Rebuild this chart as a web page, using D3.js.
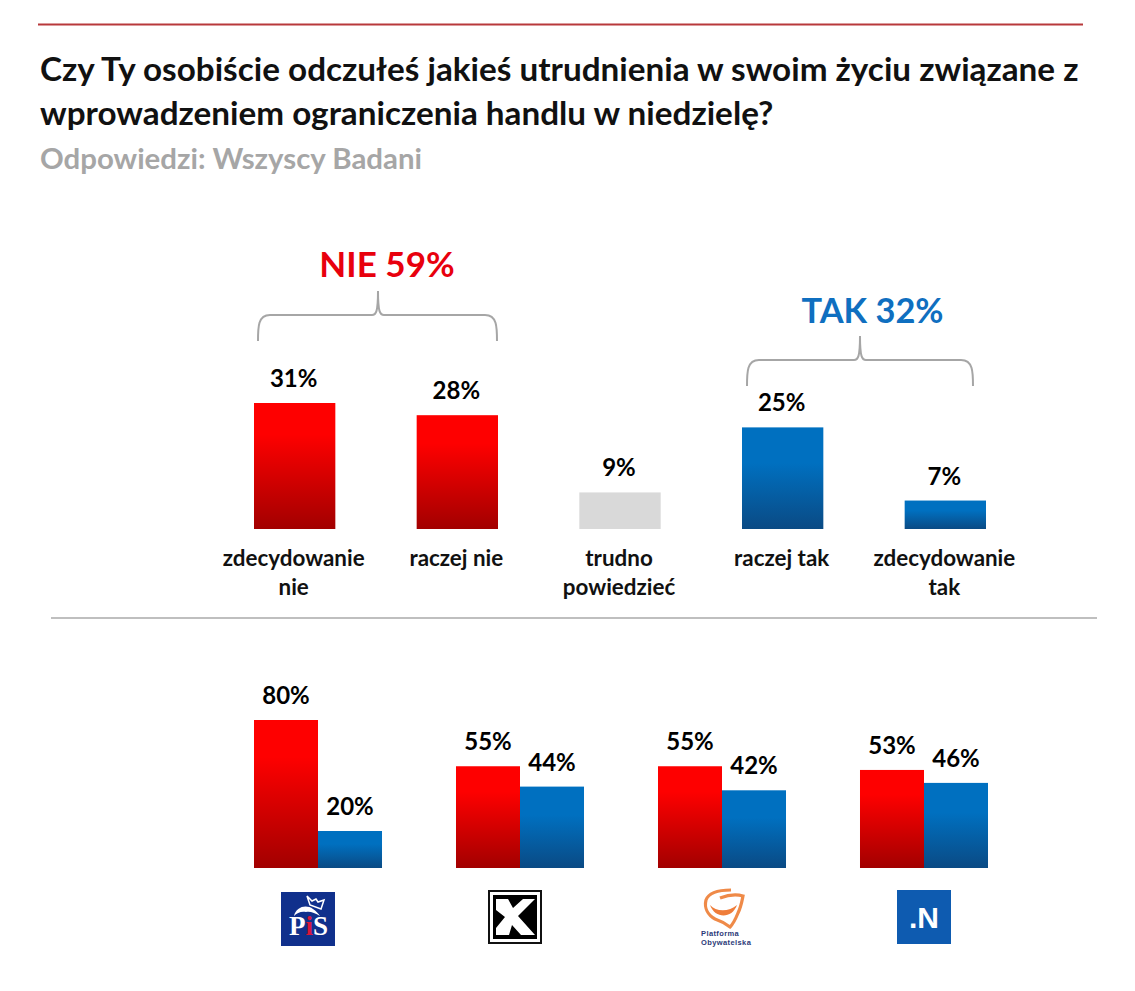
<!DOCTYPE html>
<html lang="pl">
<head>
<meta charset="utf-8">
<script src="https://cdn.jsdelivr.net/npm/d3@7"></script>
<style>
  html, body { margin: 0; background: #fff; }
  svg { display: block; }
  text { font-family: Lato, "Open Sans", sans-serif; font-weight: 700; }
</style>
</head>
<body>
<svg id="chart" width="1135" height="991"></svg>
<script>
// Data
const answers = ["zdecydowanie nie", "raczej nie", "trudno powiedzieć", "raczej tak", "zdecydowanie tak"];
const answerLines = [["zdecydowanie", "nie"], ["raczej nie"], ["trudno", "powiedzieć"], ["raczej tak"], ["zdecydowanie", "tak"]];
const answerValues = [31, 28, 9, 25, 7];
const answerFills = ["red", "red", "grey", "blue", "blue"];

const parties = ["PiS", "Kukiz", "PO", "N"];
const partySeries = ["nie", "tak"];
const partyNie = [80, 55, 55, 53];
const partyTak = [20, 44, 42, 46];

const titleLines = [
  "Czy Ty osobiście odczułeś jakieś utrudnienia w swoim życiu związane z",
  "wprowadzeniem ograniczenia handlu w niedzielę?"
];
const subtitle = "Odpowiedzi: Wszyscy Badani";

const svg = d3.select("#chart");

// Gradients
const defs = svg.append("defs");
function gradient(id, top, bottom, start) {
  const g = defs.append("linearGradient").attr("id", id)
    .attr("x1", 0).attr("y1", 0).attr("x2", 0).attr("y2", 1);
  g.append("stop").attr("offset", "0%").attr("stop-color", top);
  g.append("stop").attr("offset", start).attr("stop-color", top);
  g.append("stop").attr("offset", "100%").attr("stop-color", bottom);
}
gradient("red", "#fe0000", "#a20000", "25%");
gradient("blue", "#0070c0", "#0a4a84", "35%");
const fillOf = (k) => (k === "grey" ? "#d9d9d9" : `url(#${k})`);

// Header
svg.append("line").attr("x1", 38).attr("x2", 1083).attr("y1", 24.5).attr("y2", 24.5)
  .attr("stroke", "#b8393b").attr("stroke-width", 2);
svg.append("g").selectAll("text").data(titleLines).join("text")
  .attr("x", 40).attr("y", (d, i) => 81 + i * 44)
  .attr("font-size", 33.25).attr("fill", "#111").text((d) => d);
svg.append("text").attr("x", 40).attr("y", 169)
  .attr("font-size", 29.4).attr("fill", "#a6a6a6").text(subtitle);

// Top chart
const baseTop = 529;
const xTop = d3.scaleBand().domain(answers).range([254, 986]).paddingInner(0.5);
const yTop = d3.scaleLinear().domain([0, 31]).range([baseTop, 403]);

const topChart = svg.append("g");
topChart.selectAll("rect").data(answers).join("rect")
  .attr("x", (d) => xTop(d))
  .attr("width", xTop.bandwidth())
  .attr("y", (d, i) => yTop(answerValues[i]))
  .attr("height", (d, i) => baseTop - yTop(answerValues[i]))
  .attr("fill", (d, i) => fillOf(answerFills[i]));
topChart.selectAll(".val").data(answers).join("text").attr("class", "val")
  .attr("x", (d) => xTop(d) + xTop.bandwidth() / 2 - 1)
  .attr("y", (d, i) => yTop(answerValues[i]) - 16)
  .attr("text-anchor", "middle").attr("font-size", 24).attr("fill", "#000")
  .text((d, i) => answerValues[i] + "%");
topChart.selectAll(".cat").data(answers).join("text").attr("class", "cat")
  .attr("text-anchor", "middle").attr("font-size", 22.4).attr("fill", "#111")
  .selectAll("tspan").data((d, i) => answerLines[i].map((t) => [d, t])).join("tspan")
  .attr("x", (d) => xTop(d[0]) + xTop.bandwidth() / 2 - 1)
  .attr("y", (d, i) => 566 + i * 29)
  .text((d) => d[1]);

// Braces over the answer groups
function brace(x0, x1, xm, y, drop, rise) {
  const r = 12;
  return `M${x0},${y + drop} C${x0},${y + r} ${x0},${y} ${x0 + r},${y}`
    + ` L${xm - 6},${y} C${xm - 2},${y} ${xm},${y - 3} ${xm},${y - rise}`
    + ` C${xm},${y - 3} ${xm + 2},${y} ${xm + 6},${y}`
    + ` L${x1 - r},${y} C${x1},${y} ${x1},${y + r} ${x1},${y + drop}`;
}
const braces = [
  { x0: xTop("zdecydowanie nie") + 4, x1: xTop("raczej nie") + xTop.bandwidth() - 1, xm: 378, y: 315, label: "NIE 59%", color: "#e8000d", labelX: 387, labelY: 277, size: 35 },
  { x0: xTop("raczej tak") + 5, x1: xTop("zdecydowanie tak") + xTop.bandwidth() - 13, xm: 860, y: 360, label: "TAK 32%", color: "#0f6fc0", labelX: 872.5, labelY: 323, size: 34.4 }
];
braces.forEach((b) => {
  svg.append("path").attr("d", brace(b.x0, b.x1, b.xm, b.y, 26, 24))
    .attr("fill", "none").attr("stroke", "#a6a6a6").attr("stroke-width", 2);
  svg.append("text").attr("x", b.labelX).attr("y", b.labelY)
    .attr("text-anchor", "middle").attr("font-size", b.size).attr("fill", b.color).text(b.label);
});

// Divider
svg.append("line").attr("x1", 51).attr("x2", 1097).attr("y1", 618).attr("y2", 618)
  .attr("stroke", "#bfbfbf").attr("stroke-width", 2);

// Bottom chart
const baseBot = 868;
const x0 = d3.scaleBand().domain(parties).range([254, 988]).paddingInner(0.3663);
const x1 = d3.scaleBand().domain(partySeries).range([0, x0.bandwidth()]);
const yBot = d3.scaleLinear().domain([0, 80]).range([baseBot, 720]);

const rows = parties.flatMap((p, i) => [
  { party: p, series: "nie", value: partyNie[i], fill: "red" },
  { party: p, series: "tak", value: partyTak[i], fill: "blue" }
]);
const bottomChart = svg.append("g");
bottomChart.selectAll("rect").data(rows).join("rect")
  .attr("x", (d) => x0(d.party) + x1(d.series))
  .attr("width", x1.bandwidth())
  .attr("y", (d) => yBot(d.value))
  .attr("height", (d) => baseBot - yBot(d.value))
  .attr("fill", (d) => fillOf(d.fill));
bottomChart.selectAll("text").data(rows).join("text")
  .attr("x", (d) => x0(d.party) + x1(d.series) + x1.bandwidth() / 2)
  .attr("y", (d) => yBot(d.value) - 16)
  .attr("text-anchor", "middle").attr("font-size", 24).attr("fill", "#000")
  .text((d) => d.value + "%");

// Party logos
const serif = "font-family:'Liberation Serif',serif;font-weight:700";
const pis = svg.append("g").attr("transform", "translate(281,892)");
pis.append("rect").attr("width", 54).attr("height", 54).attr("fill", "#10308c");
pis.append("path").attr("d", "M26,4 L31,9 L35,7 L37,10 L43,8 L40,17 L29,13 Z")
  .attr("fill", "none").attr("stroke", "#fff").attr("stroke-width", 1.5);
pis.append("path").attr("d", "M13,24 C15,15 25,12 32,17 C35,19 37,21 39,24 C34,21 29,19 25,20 C20,19 16,21 13,24 Z")
  .attr("fill", "#fff");
pis.append("text").attr("x", 8).attr("y", 43).attr("font-size", 27)
  .attr("style", serif).attr("fill", "#fff").text("P");
pis.append("text").attr("x", 24.5).attr("y", 43).attr("font-size", 27)
  .attr("style", serif).attr("fill", "#d8163c").text("i");
pis.append("text").attr("x", 32).attr("y", 43).attr("font-size", 27)
  .attr("style", serif).attr("fill", "#fff").text("S");

const kukiz = svg.append("g").attr("transform", "translate(488,890)");
kukiz.append("rect").attr("x", 1).attr("y", 1).attr("width", 52).attr("height", 52)
  .attr("fill", "#fff").attr("stroke", "#111").attr("stroke-width", 2);
kukiz.append("rect").attr("x", 5).attr("y", 5).attr("width", 44).attr("height", 44).attr("fill", "#000");
kukiz.append("path").attr("d", "M8,9 H20 L25,18 L35,9 H47 L30,26 L47,45 H33 L24,35 L21,45 H8 L8,38 L17,27 L8,20 Z").attr("fill", "#fff");

const po = svg.append("g").attr("transform", "translate(703,888)");
po.append("path").attr("d", "M28,2 C18,2 6,4 3,12 C1,20 5,27 12,31 C18,33 23,36 27,39 C31,35 33,30 35,25 C38,19 39,13 40,8 C33,6 25,7 17,10")
  .attr("fill", "none").attr("stroke", "#ef8a48").attr("stroke-width", 3.2);
po.append("path").attr("d", "M7,17 C13,24 26,24 34,17 C29,31 12,31 7,17 Z").attr("fill", "#ef7d3a");
po.selectAll("text").data(["Platforma", "Obywatelska"]).join("text")
  .attr("x", -2).attr("y", (d, i) => 48 + i * 8.6)
  .attr("font-size", 7.5).attr("letter-spacing", 0.4).attr("fill", "#2b3a78")
  .attr("style", "font-family:'Liberation Sans',sans-serif;font-weight:700").text((d) => d);

const nowo = svg.append("g").attr("transform", "translate(897,890)");
nowo.append("rect").attr("width", 54).attr("height", 54).attr("fill", "#0e5bb0");
nowo.append("text").attr("x", 27).attr("y", 38).attr("text-anchor", "middle")
  .attr("font-size", 30).attr("fill", "#fff")
  .attr("style", "font-family:'Liberation Sans',sans-serif;font-weight:700").text(".N");
</script>
</body>
</html>
